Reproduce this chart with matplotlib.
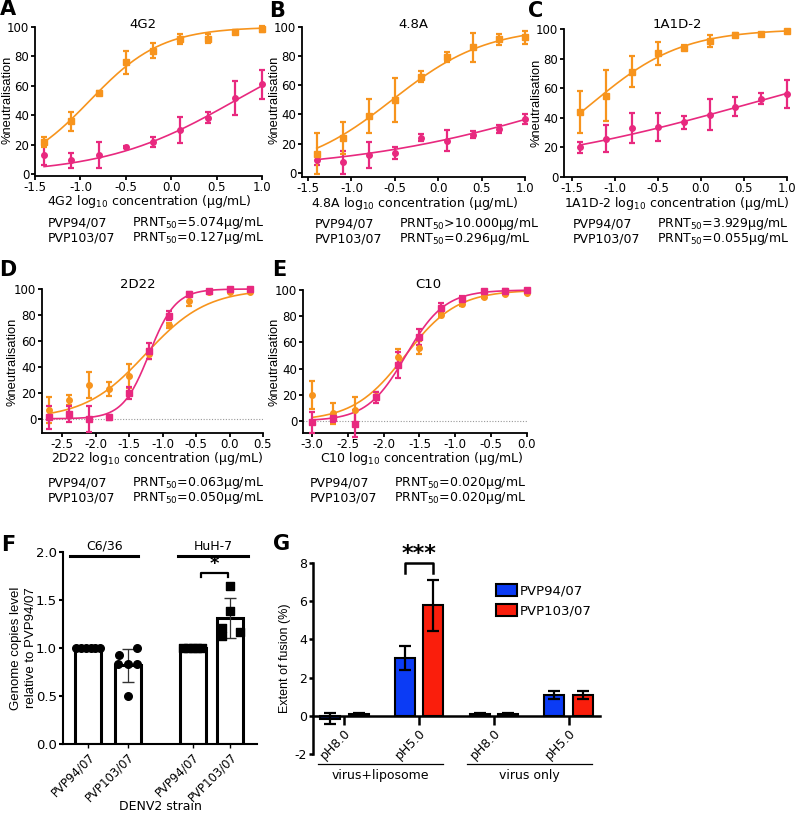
import numpy as np
import matplotlib.pyplot as plt
from matplotlib.patches import Patch

plt.rcParams['font.family'] = ['DejaVu Sans']
plt.rcParams['mathtext.fontset'] = 'dejavusans'
plt.rcParams['axes.unicode_minus'] = False
VFONT = ['Liberation Sans', 'DejaVu Sans']   # narrower face for the rotated axis titles

ORANGE = '#F7941D'
PINK = '#E8297F'
BLUE = '#0B3BF5'
RED = '#FA1E0C'

# ---- neutralisation data, log10 concentration vs % neutralisation ----
conc_abc = [-1.4, -1.1, -0.8, -0.5, -0.2, 0.1, 0.4, 0.7, 1.0]
conc_d = [-2.7, -2.4, -2.1, -1.8, -1.5, -1.2, -0.9, -0.6, -0.3, 0.0, 0.3]
conc_e = [-3.0, -2.7, -2.4, -2.1, -1.8, -1.5, -1.2, -0.9, -0.6, -0.3, 0.0]

a_103 = [22, 36, 55.5, 76, 84, 92, 92, 96.5, 98.5]
a_103_sd = [3.5, 6.5, 1.2, 8, 4.8, 3.5, 3, 1.5, 2]
a_94 = [13, 9.5, 13, 18.5, 22, 30, 38.5, 51.5, 61]
a_94_sd = [7, 5, 9, 1, 3.5, 9, 4, 11.5, 10]

b_103 = [13, 24, 39, 50, 66, 79.5, 86, 91.5, 93]
b_103_sd = [14, 11, 11.5, 15, 4, 3.5, 10, 4, 4.5]
b_94 = [9, 7, 12, 13.5, 24, 22, 26, 30, 37]
b_94_sd = [4, 8, 9, 4, 2.5, 7, 2.5, 3, 3.5]

c_103 = [44, 55, 71, 83.5, 87.5, 92, 96, 96.5, 98.5]
c_103_sd = [14, 17, 10.5, 7.5, 2, 4, 1, 1, 1]
c_94 = [20, 26, 33, 34, 37, 42, 47.5, 53, 56]
c_94_sd = [3.5, 9, 10, 9.5, 4.5, 10.5, 6.5, 4, 9.5]

d_103 = [7, 14.5, 26, 23, 33, 50, 72, 90.5, 98, 98, 98]
d_103_sd = [10, 4, 10, 5.5, 9, 4, 2, 3.5, 1, 1, 1]
d_94 = [1, 3.5, 0, 1, 20, 52, 79.5, 96.5, 98.5, 100, 100]
d_94_sd = [9, 6, 10, 2, 4.5, 6, 3.5, 1.5, 1, 1, 1]

e_103 = [20, 6, 8.5, 19, 49, 56, 81, 89, 95, 97, 98]
e_103_sd = [10.5, 8, 10, 3, 6, 5, 1.5, 1.5, 1, 1, 1]
e_94 = [-1, 2, -2, 18, 43, 64, 86, 93, 99, 99.5, 100]
e_94_sd = [8, 3, 10, 4, 10, 6, 4, 2.5, 1, 1, 1]

# fitted dose-response parameters: (logEC50, hill slope)
fit_a_103, fit_a_94 = (-0.896, 1.1), (0.705, 0.6)
fit_b_103, fit_b_94 = (-0.529, 0.8), (1.75, 0.32)
fit_c_103, fit_c_94 = (-1.26, 0.83), (0.594, 0.28)
fit_d_103, fit_d_94 = (-1.25, 0.95), (-1.2, 2.2)
fit_e_103, fit_e_94 = (-1.70, 1.2), (-1.69, 1.6)

prnt_a = ['5.074', '0.127']
prnt_b = ['>10.000', '0.296']
prnt_c = ['3.929', '0.055']
prnt_d = ['0.063', '0.050']
prnt_e = ['0.020', '0.020']

# ---- F: genome copies ----
f_labels = ['PVP94/07', 'PVP103/07', 'PVP94/07', 'PVP103/07']
f_means = [1.0, 0.82, 1.0, 1.31]
f_sd = [0.0, 0.17, 0.0, 0.21]
f_c636_94 = [1.0, 1.0, 1.0, 1.0, 1.0, 1.0]
f_c636_103 = [0.93, 1.0, 0.83, 0.83, 0.83, 0.50]
f_huh_94 = [1.0, 1.0, 1.0, 1.0, 1.0]
f_huh_103 = [1.65, 1.39, 1.21, 1.12, 1.17]

# ---- G: liposome fusion ----
g_labels = ['pH8.0', 'pH5.0', 'pH8.0', 'pH5.0']
g_94 = [-0.15, 3.05, 0.09, 1.08]
g_94_sd = [0.28, 0.63, 0.05, 0.22]
g_103 = [0.08, 5.78, 0.09, 1.08]
g_103_sd = [0.05, 1.33, 0.05, 0.22]

W, H = 796, 817
fig = plt.figure(figsize=(W / 100, H / 100), dpi=100)


def add_ax(l, t, r, b):
    return fig.add_axes([l / W, 1 - b / H, (r - l) / W, (b - t) / H])


def ftext(x, y, s, **kw):
    kw.setdefault('ha', 'center')
    kw.setdefault('va', 'center')
    fig.text(x / W, 1 - y / H, s, **kw)


def logistic(x, logec50, hill):
    return 100 / (1 + 10 ** ((logec50 - x) * hill))


def style(ax, lw=1.3, pad=1.5):
    ax.spines[['top', 'right']].set_visible(False)
    for s in ['left', 'bottom']:
        ax.spines[s].set_linewidth(lw)
    ax.tick_params(direction='out', length=3, width=lw, pad=pad)


def dose_panel(box, xlim, ylim, xticks, conc, series, title, title_xy, name,
               xlab_xy, ylab_xy, prnt, prnt_xy, zero_line=False):
    ax = add_ax(*box)
    style(ax, pad=1.2)
    ax.tick_params(axis='x', pad=0.5)
    xs = np.linspace(conc[0], conc[-1], 200)
    for vals, sd, fit, col, mk in series:
        ax.plot(xs, logistic(xs, *fit), color=col, lw=1.2, clip_on=False, zorder=3)
        ax.errorbar(conc, vals, yerr=sd, fmt=mk, color=col, ms=4, elinewidth=1.6,
                    capsize=2.5, capthick=1.6, clip_on=False, zorder=4)
    if zero_line:
        ax.axhline(0, color='#999999', lw=0.8, ls=(0, (1, 1.5)), zorder=1)
    ax.set_xlim(*xlim)
    ax.set_ylim(*ylim)
    ax.set_xticks(xticks)
    ax.set_xticklabels(['%.1f' % t for t in xticks], fontsize=8.5)
    ax.set_yticks([0, 20, 40, 60, 80, 100])
    ax.set_yticklabels(['0', '20', '40', '60', '80', '100'], fontsize=8.5)
    ftext(*title_xy, title, fontsize=9.5)
    ftext(*xlab_xy, name + r' log$_{10}$ concentration (μg/mL)', fontsize=9)
    ftext(*ylab_xy, '%neutralisation', fontsize=9.3, rotation=90, family=VFONT)
    px, py = prnt_xy
    for i, strain in enumerate(['PVP94/07', 'PVP103/07']):
        ftext(px, py + 15 * i, strain, ha='left', fontsize=9)
        sep = '>' if prnt[i].startswith('>') else '='
        ftext(px + 84, py + 15 * i, r'PRNT$_{50}$' + sep + prnt[i].lstrip('>') + 'μg/mL',
              ha='left', fontsize=9)
    return ax


abc_ticks = [-1.5, -1.0, -0.5, 0.0, 0.5, 1.0]

dose_panel((35, 27, 262, 176), (-1.5, 1.0), (-1.2, 100), abc_ticks, conc_abc,
           [(a_94, a_94_sd, fit_a_94, PINK, 'o'), (a_103, a_103_sd, fit_a_103, ORANGE, 's')],
           '4G2', (143, 25), '4G2', (149, 202), (8, 100), prnt_a, (48, 223))
dose_panel((302, 27, 525, 177), (-1.57, 1.0), (-3.0, 100), abc_ticks, conc_abc,
           [(b_94, b_94_sd, fit_b_94, PINK, 'o'), (b_103, b_103_sd, fit_b_103, ORANGE, 's')],
           '4.8A', (413, 25), '4.8A', (415, 203), (274, 100), prnt_b, (315, 224))
dose_panel((564, 29, 787, 177), (-1.59, 1.0), (0, 100), abc_ticks, conc_abc,
           [(c_94, c_94_sd, fit_c_94, PINK, 'o'), (c_103, c_103_sd, fit_c_103, ORANGE, 's')],
           '1A1D-2', (677, 25), '1A1D-2', (677, 203), (536, 103), prnt_c, (573, 224))
dose_panel((42, 289, 263, 433), (-2.8, 0.5), (-11, 100),
           [-2.5, -2.0, -1.5, -1.0, -0.5, 0.0, 0.5], conc_d,
           [(d_103, d_103_sd, fit_d_103, ORANGE, 'o'), (d_94, d_94_sd, fit_d_94, PINK, 's')],
           '2D22', (138, 285), '2D22', (157, 459), (13, 362), prnt_d, (48, 483),
           zero_line=True)
dose_panel((303, 290, 527, 433), (-3.125, 0.0), (-9.2, 100),
           [-3.0, -2.5, -2.0, -1.5, -1.0, -0.5, 0.0], conc_e,
           [(e_103, e_103_sd, fit_e_103, ORANGE, 'o'), (e_94, e_94_sd, fit_e_94, PINK, 's')],
           'C10', (428, 285), 'C10', (422, 459), (275, 362), prnt_e, (310, 483),
           zero_line=True)

# ---- panel F ----
axf = add_ax(63, 552, 257, 744)
style(axf, lw=1.5)
f_pos = [0, 1, 2.65, 3.6]
axf.bar(f_pos, f_means, width=0.66, color='white', edgecolor='black', lw=2.2, zorder=2)
axf.errorbar(f_pos[1], f_means[1], yerr=f_sd[1], color='#333333', lw=0.9, capsize=4.5, zorder=3)
axf.errorbar(f_pos[3], f_means[3], yerr=f_sd[3], color='#333333', lw=0.9, capsize=4.5, zorder=3)
swarm6 = [-0.30, -0.18, -0.06, 0.06, 0.18, 0.30]
swarm5 = [-0.24, -0.12, 0.0, 0.12, 0.24]
axf.scatter([f_pos[0] + d for d in swarm6], f_c636_94, s=30, color='black', zorder=4, clip_on=False)
axf.scatter([f_pos[1] + d for d in [-0.22, 0.24, -0.24, 0.0, 0.24, 0.0]], f_c636_103,
            s=30, color='black', zorder=4)
axf.scatter([f_pos[2] + d for d in swarm5], f_huh_94, s=26, marker='s', color='black', zorder=4)
axf.scatter([f_pos[3] + d for d in [0.0, 0.0, -0.21, -0.21, 0.24]], f_huh_103,
            s=26, marker='s', color='black', zorder=4)
axf.set_xlim(-0.64, 4.28)
axf.set_ylim(0, 2)
axf.set_yticks([0, 0.5, 1.0, 1.5, 2.0])
axf.set_yticklabels(['0.0', '0.5', '1.0', '1.5', '2.0'], fontsize=9.5)
axf.set_xticks(f_pos)
axf.set_xticklabels(f_labels, rotation=45, ha='right', rotation_mode='anchor', fontsize=8.5)
axf.tick_params(axis='x', length=3, width=1)
for x0, x1, lab in [(-0.46, 1.27, 'C6/36'), (2.28, 4.05, 'HuH-7')]:
    axf.plot([x0, x1], [1.96, 1.96], color='black', lw=2.2, clip_on=False)
    axf.text((x0 + x1) / 2, 1.99, lab, ha='center', va='bottom', fontsize=9)
axf.plot([2.85, 2.85, 3.55, 3.55], [1.74, 1.78, 1.78, 1.74], color='black', lw=1.6)
axf.text(3.2, 1.78, '*', ha='center', va='bottom', fontsize=13, fontweight='bold')
ftext(16, 648, 'Genome copies level', rotation=90, fontsize=9.5, family=VFONT)
ftext(31, 648, 'relative to PVP94/07', rotation=90, fontsize=9.5, family=VFONT)
ftext(160, 806, 'DENV2 strain', fontsize=9)

# ---- panel G ----
axg = add_ax(313, 563, 600, 754)
style(axg, lw=1.8)
axg.spines['bottom'].set_position(('data', 0))
g_pos = np.arange(4)
axg.bar(g_pos - 0.19, g_94, width=0.27, color=BLUE, edgecolor='black', lw=1.5, zorder=2)
axg.bar(g_pos + 0.19, g_103, width=0.27, color=RED, edgecolor='black', lw=1.5, zorder=2)
axg.errorbar(g_pos - 0.19, g_94, yerr=g_94_sd, fmt='none', ecolor='black', elinewidth=1.6,
             capsize=4, capthick=1.6, zorder=3)
axg.errorbar(g_pos + 0.19, g_103, yerr=g_103_sd, fmt='none', ecolor='black', elinewidth=1.6,
             capsize=4, capthick=1.6, zorder=3)
axg.set_xlim(-0.42, 3.42)
axg.set_ylim(-2, 8)
axg.set_yticks([-2, 0, 2, 4, 6, 8])
axg.set_yticklabels(['-2', '0', '2', '4', '6', '8'], fontsize=9)
axg.set_xticks(g_pos)
axg.set_xticklabels(g_labels, rotation=45, ha='right', rotation_mode='anchor', fontsize=9)
axg.tick_params(axis='x', length=6.5, width=1.8, pad=1)
axg.plot([0.81, 0.81, 1.19, 1.19], [7.5, 8.0, 8.0, 7.5], color='black', lw=1.8, clip_on=False)
axg.text(1.0, 7.95, '***', ha='center', va='bottom', fontsize=16, fontweight='bold')
tr = axg.get_xaxis_transform()
for x0, x1, lab in [(-0.35, 1.32, 'virus+liposome'), (1.64, 3.31, 'virus only')]:
    axg.plot([x0, x1], [-0.052, -0.052], color='black', lw=0.9, transform=tr, clip_on=False)
    axg.text((x0 + x1) / 2, -0.115, lab, ha='center', va='center', fontsize=9, transform=tr)
ftext(285, 658, 'Extent of fusion (%)', rotation=90, fontsize=9, family=VFONT)
fig.legend(handles=[Patch(facecolor=BLUE, edgecolor='black', lw=1.5),
                    Patch(facecolor=RED, edgecolor='black', lw=1.5)],
           labels=['PVP94/07', 'PVP103/07'], loc='upper left',
           bbox_to_anchor=(496 / W, 1 - 584 / H), frameon=False, fontsize=9.5,
           handlelength=1.6, handleheight=1.05, handletextpad=0.2, labelspacing=0.5,
           borderpad=0, borderaxespad=0)

# panel letters
for lab, x, y in [('A', 8, 9), ('B', 277, 11), ('C', 536, 11), ('D', 8, 270),
                  ('E', 279, 270), ('F', 8, 545), ('G', 282, 544)]:
    ftext(x, y, lab, fontsize=15, fontweight='bold')

fig.savefig('out.png', dpi=100)
